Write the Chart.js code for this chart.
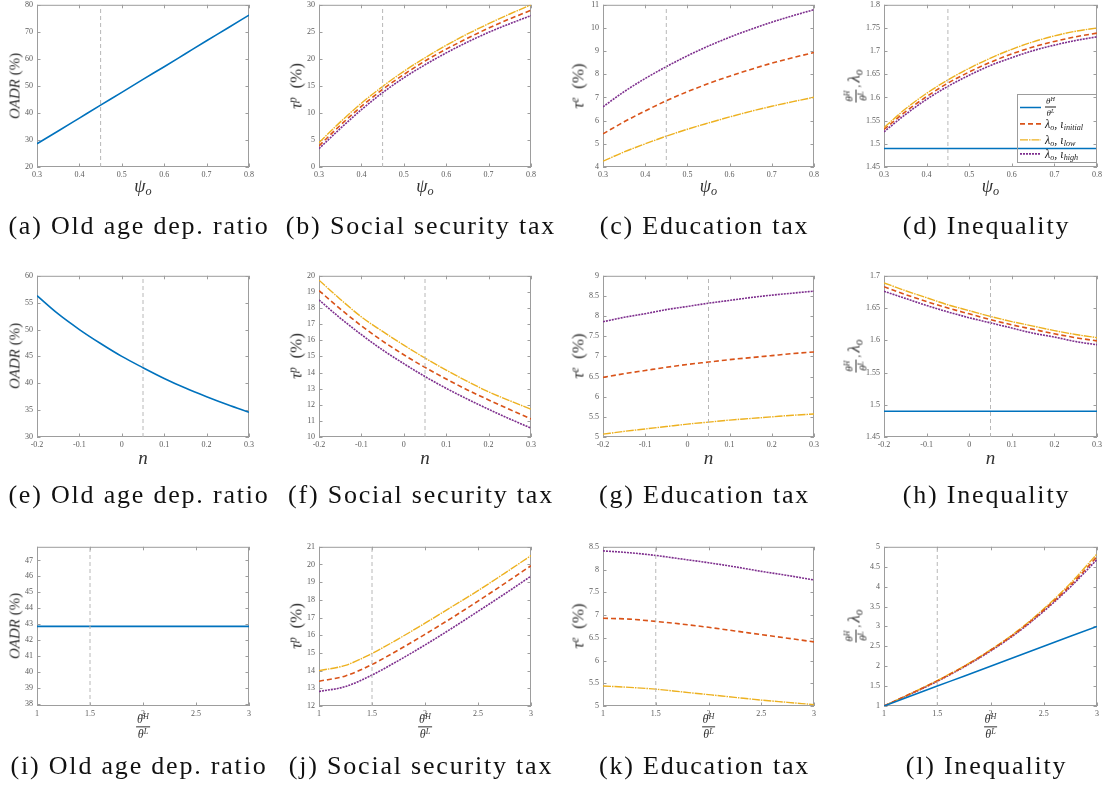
<!DOCTYPE html>
<html>
<head>
<meta charset="utf-8">
<script src="https://cdn.jsdelivr.net/npm/chart.js@4.4.0/dist/chart.umd.min.js"></script>
<style>
  html, body { margin: 0; padding: 0; background: #fff; }
  #fig { position: relative; width: 1105px; height: 787px; overflow: hidden; background: #fff;
         font-family: "Liberation Serif", "DejaVu Serif", serif; color: #222; }
  #fig canvas { position: absolute; }
  .lab { position: absolute; white-space: nowrap; color: #333; line-height: 1; }
  .ylab { transform: translate(-50%, -50%) rotate(-90deg); }
  .xlab { transform: translate(-50%, -50%); }
  .cap { position: absolute; transform: translate(-50%, -50%); white-space: nowrap;
         font-family: "Liberation Serif", serif; font-size: 26px; letter-spacing: 1.8px; color: #111; }
  .frac { display: inline-flex; flex-direction: column; align-items: center; vertical-align: middle; line-height: 1; }
  .frac .num { border-bottom: 1px solid currentColor; padding: 0 1px 1px; }
  .frac .den { padding-top: 1px; }
  .sp { font-size: 0.68em; position: relative; top: -0.45em; }
  .sb { font-size: 0.68em; position: relative; top: 0.25em; }
  #legend { position: absolute; border: 1px solid #9c9c9c; box-sizing: border-box; }
  #legend .row { position: absolute; left: 0; display: flex; align-items: center; transform: translateY(-50%); line-height: 1; }
  #legend svg { display: block; margin-right: 3px; }
  #legend .txt { font-size: 12px; color: #222; white-space: nowrap; }
</style>
</head>
<body>
<div id="fig"></div>
<script>
// ---- parameter grids (horizontal axes) ----
const psiGrid   = [0.30, 0.35, 0.40, 0.45, 0.50, 0.55, 0.60, 0.65, 0.70, 0.75, 0.80];
const nGrid     = [-0.20, -0.15, -0.10, -0.05, 0.00, 0.05, 0.10, 0.15, 0.20, 0.25, 0.30];
const ratioGrid = [1.00, 1.25, 1.50, 1.75, 2.00, 2.25, 2.50, 2.75, 3.00];

// calibrated baseline values (vertical reference lines)
const psiBase = 0.45;
const nBase = 0.05;
const ratioBase = 1.5;

// ---- old age dependency ratio, OADR (%) ----
const oadrPsi   = [28.6, 33.3, 38.1, 42.9, 47.6, 52.4, 57.1, 61.9, 66.7, 71.4, 76.2];
const oadrN     = [56.3, 52.9, 50.0, 47.4, 45.0, 42.9, 40.9, 39.1, 37.5, 36.0, 34.6];
const oadrRatio = [42.86, 42.86, 42.86, 42.86, 42.86, 42.86, 42.86, 42.86, 42.86];

// ---- social security tax, tau^p (%) ----
const tauPPsiInit = [3.9, 7.7, 11.2, 14.35, 17.1, 19.6, 21.8, 23.8, 25.7, 27.4, 29.0];
const tauPPsiLow  = [4.5, 8.3, 11.8, 14.9, 17.7, 20.2, 22.5, 24.6, 26.5, 28.3, 30.0];
const tauPPsiHigh = [3.4, 7.1, 10.6, 13.75, 16.5, 18.9, 21.1, 23.1, 24.9, 26.5, 28.0];

const tauPNInit = [19.08, 17.95, 16.9, 15.95, 15.1, 14.32, 13.6, 12.92, 12.3, 11.7, 11.12];
const tauPNLow  = [19.73, 18.55, 17.45, 16.55, 15.7, 14.9, 14.15, 13.45, 12.8, 12.25, 11.72];
const tauPNHigh = [18.5, 17.38, 16.35, 15.4, 14.55, 13.75, 13.02, 12.35, 11.72, 11.12, 10.55];

const tauPRatioInit = [13.4, 13.7, 14.35, 15.17, 16.05, 16.97, 17.93, 18.92, 19.93];
const tauPRatioLow  = [14.0, 14.3, 14.97, 15.8, 16.68, 17.6, 18.52, 19.5, 20.5];
const tauPRatioHigh = [12.82, 13.1, 13.75, 14.57, 15.45, 16.38, 17.35, 18.33, 19.34];

// ---- education tax, tau^e (%) ----
const tauEPsiInit = [5.43, 5.95, 6.42, 6.86, 7.25, 7.6, 7.92, 8.21, 8.48, 8.72, 8.94];
const tauEPsiLow  = [4.25, 4.65, 5.0, 5.33, 5.63, 5.9, 6.16, 6.4, 6.62, 6.82, 7.01];
const tauEPsiHigh = [6.6, 7.25, 7.82, 8.33, 8.8, 9.22, 9.6, 9.94, 10.25, 10.53, 10.79];

const tauENInit = [6.48, 6.57, 6.65, 6.73, 6.8, 6.86, 6.92, 6.97, 7.02, 7.07, 7.11];
const tauENLow  = [5.07, 5.14, 5.2, 5.26, 5.32, 5.37, 5.42, 5.46, 5.5, 5.54, 5.57];
const tauENHigh = [7.86, 7.97, 8.06, 8.16, 8.24, 8.32, 8.39, 8.46, 8.52, 8.57, 8.62];

const tauERatioInit = [6.93, 6.91, 6.86, 6.8, 6.73, 6.65, 6.57, 6.49, 6.41];
const tauERatioLow  = [5.44, 5.41, 5.37, 5.31, 5.25, 5.19, 5.13, 5.08, 5.03];
const tauERatioHigh = [8.41, 8.37, 8.31, 8.23, 8.15, 8.06, 7.96, 7.87, 7.77];

// ---- inequality: theta^H/theta^L and lambda_o ----
const thetaRatioPsi   = [1.49, 1.49, 1.49, 1.49, 1.49, 1.49, 1.49, 1.49, 1.49, 1.49, 1.49];
const lambdaPsiInit   = [1.531, 1.569, 1.602, 1.631, 1.655, 1.676, 1.694, 1.709, 1.721, 1.731, 1.739];
const lambdaPsiLow    = [1.535, 1.575, 1.609, 1.638, 1.663, 1.685, 1.704, 1.72, 1.733, 1.743, 1.750];
const lambdaPsiHigh   = [1.526, 1.563, 1.596, 1.624, 1.648, 1.669, 1.686, 1.701, 1.713, 1.723, 1.731];

const thetaRatioN     = [1.49, 1.49, 1.49, 1.49, 1.49, 1.49, 1.49, 1.49, 1.49, 1.49, 1.49];
const lambdaNInit     = [1.683, 1.671, 1.66, 1.65, 1.641, 1.632, 1.624, 1.617, 1.61, 1.604, 1.599];
const lambdaNLow      = [1.689, 1.677, 1.666, 1.655, 1.646, 1.637, 1.629, 1.622, 1.615, 1.609, 1.604];
const lambdaNHigh     = [1.676, 1.665, 1.654, 1.644, 1.635, 1.627, 1.619, 1.611, 1.605, 1.598, 1.593];

const thetaRatioRatio = [1.0, 1.25, 1.5, 1.75, 2.0, 2.25, 2.5, 2.75, 3.0];
const lambdaRatioInit = [1.0, 1.31, 1.63, 1.99, 2.4, 2.86, 3.41, 4.03, 4.75];
const lambdaRatioLow  = [1.0, 1.31, 1.64, 2.0, 2.41, 2.88, 3.44, 4.08, 4.82];
const lambdaRatioHigh = [1.0, 1.3, 1.62, 1.98, 2.38, 2.84, 3.38, 3.99, 4.68];

// ---- tick labels ----
const psiTicks   = [0.3, 0.4, 0.5, 0.6, 0.7, 0.8];
const nTicks     = [-0.2, -0.1, 0, 0.1, 0.2, 0.3];
const ratioTicks = [1, 1.5, 2, 2.5, 3];
const oadrPsiTicks   = [20, 30, 40, 50, 60, 70, 80];
const oadrNTicks     = [30, 35, 40, 45, 50, 55, 60];
const oadrRatioTicks = [38, 39, 40, 41, 42, 43, 44, 45, 46, 47];
const tauPPsiTicks   = [0, 5, 10, 15, 20, 25, 30];
const tauPNTicks     = [10, 11, 12, 13, 14, 15, 16, 17, 18, 19, 20];
const tauPRatioTicks = [12, 13, 14, 15, 16, 17, 18, 19, 20, 21];
const tauEPsiTicks   = [4, 5, 6, 7, 8, 9, 10, 11];
const tauENTicks     = [5, 5.5, 6, 6.5, 7, 7.5, 8, 8.5, 9];
const tauERatioTicks = [5, 5.5, 6, 6.5, 7, 7.5, 8, 8.5];
const ineqPsiTicks   = [1.45, 1.5, 1.55, 1.6, 1.65, 1.7, 1.75, 1.8];
const ineqNTicks     = [1.45, 1.5, 1.55, 1.6, 1.65, 1.7];
const ineqRatioTicks = [1, 1.5, 2, 2.5, 3, 3.5, 4, 4.5, 5];

// ---- panel captions ----
const captions = [
  '(a) Old age dep. ratio', '(b) Social security tax', '(c) Education tax', '(d) Inequality',
  '(e) Old age dep. ratio', '(f) Social security tax', '(g) Education tax', '(h) Inequality',
  '(i) Old age dep. ratio', '(j) Social security tax', '(k) Education tax', '(l) Inequality'
];

// ---- math labels (HTML) ----
const frac = (a, b, size) =>
  `<span class="frac" style="font-size:${size}px"><span class="num">${a}</span><span class="den">${b}</span></span>`;
const thetaFrac = (size) => frac('<i>θ</i><span class="sp"><i>H</i></span>', '<i>θ</i><span class="sp"><i>L</i></span>', size);
const lamO = '<i>λ</i><span class="sb"><i>o</i></span>';

const xTitlePsi   = { html: '<i>ψ</i><span class="sb"><i>o</i></span>', size: 18 };
const xTitleN     = { html: '<i>n</i>', size: 19 };
const xTitleRatio = { html: thetaFrac(12), size: 12 };
const yTitleOADR  = { html: '<i>OADR</i> (%)', size: 15 };
const yTitleTauP  = { html: '<i>τ</i><span class="sp"><i>p</i></span>&nbsp;&nbsp;(%)', size: 17 };
const yTitleTauE  = { html: '<i>τ</i><span class="sp"><i>e</i></span>&nbsp;&nbsp;(%)', size: 17 };
const yTitleIneq  = { html: thetaFrac(11) + '<span style="font-size:11px">&thinsp;,&thinsp;</span>' + lamO, size: 17 };

// ---- line styles ----
const lineStyles = {
  ratio: { borderColor: '#0072BD', borderDash: [],             borderWidth: 1.6 },
  init:  { borderColor: '#D95319', borderDash: [5, 3],         borderWidth: 1.6 },
  low:   { borderColor: '#EDB120', borderDash: [8, 1, 1.5, 1], borderWidth: 1.4 },
  high:  { borderColor: '#7E2F8E', borderDash: [2, 1],         borderWidth: 1.6 }
};

// plot-area rectangles [left, top, right, bottom]
const colL = [37, 319, 603, 884], colR = [249, 531, 814, 1097];
const rowT = [4, 275, 546], rowB = [167, 437, 706];
const xTitleY = [186, 457, 727];
const yTitleX = [15, 296, 578, 856];
const captionY = [226, 495, 766];

const rows = [
  { grid: psiGrid, xMin: 0.3, xMax: 0.8, xTicks: psiTicks, base: psiBase, xTitle: xTitlePsi,
    panels: [
      { yMin: 20, yMax: 80, yTicks: oadrPsiTicks, yTitle: yTitleOADR, series: [['ratio', oadrPsi]] },
      { yMin: 0, yMax: 30, yTicks: tauPPsiTicks, yTitle: yTitleTauP,
        series: [['init', tauPPsiInit], ['low', tauPPsiLow], ['high', tauPPsiHigh]] },
      { yMin: 4, yMax: 11, yTicks: tauEPsiTicks, yTitle: yTitleTauE,
        series: [['init', tauEPsiInit], ['low', tauEPsiLow], ['high', tauEPsiHigh]] },
      { yMin: 1.45, yMax: 1.8, yTicks: ineqPsiTicks, yTitle: yTitleIneq,
        series: [['ratio', thetaRatioPsi], ['init', lambdaPsiInit], ['low', lambdaPsiLow], ['high', lambdaPsiHigh]] }
    ] },
  { grid: nGrid, xMin: -0.2, xMax: 0.3, xTicks: nTicks, base: nBase, xTitle: xTitleN,
    panels: [
      { yMin: 30, yMax: 60, yTicks: oadrNTicks, yTitle: yTitleOADR, series: [['ratio', oadrN]] },
      { yMin: 10, yMax: 20, yTicks: tauPNTicks, yTitle: yTitleTauP,
        series: [['init', tauPNInit], ['low', tauPNLow], ['high', tauPNHigh]] },
      { yMin: 5, yMax: 9, yTicks: tauENTicks, yTitle: yTitleTauE,
        series: [['init', tauENInit], ['low', tauENLow], ['high', tauENHigh]] },
      { yMin: 1.45, yMax: 1.7, yTicks: ineqNTicks, yTitle: yTitleIneq,
        series: [['ratio', thetaRatioN], ['init', lambdaNInit], ['low', lambdaNLow], ['high', lambdaNHigh]] }
    ] },
  { grid: ratioGrid, xMin: 1, xMax: 3, xTicks: ratioTicks, base: ratioBase, xTitle: xTitleRatio,
    panels: [
      { yMin: 37.857, yMax: 47.857, yTicks: oadrRatioTicks, yTitle: yTitleOADR, series: [['ratio', oadrRatio]] },
      { yMin: 12, yMax: 21, yTicks: tauPRatioTicks, yTitle: yTitleTauP,
        series: [['init', tauPRatioInit], ['low', tauPRatioLow], ['high', tauPRatioHigh]] },
      { yMin: 5, yMax: 8.5, yTicks: tauERatioTicks, yTitle: yTitleTauE,
        series: [['init', tauERatioInit], ['low', tauERatioLow], ['high', tauERatioHigh]] },
      { yMin: 1, yMax: 5, yTicks: ineqRatioTicks, yTitle: yTitleIneq,
        series: [['ratio', thetaRatioRatio], ['init', lambdaRatioInit], ['low', lambdaRatioLow], ['high', lambdaRatioHigh]] }
    ] }
];

// box around the axes with inward tick marks on all four sides
const boxPlugin = {
  id: 'axesBox',
  beforeDatasetsDraw(chart) {
    const { ctx, chartArea: a, scales: { x, y } } = chart;
    const L = 3.5;
    ctx.save();
    ctx.strokeStyle = '#9d9d9d';
    ctx.lineWidth = 1;
    ctx.strokeRect(a.left + 0.5, a.top + 0.5, a.right - a.left - 1, a.bottom - a.top - 1);
    ctx.beginPath();
    x.ticks.forEach(t => {
      const px = Math.round(x.getPixelForValue(t.value)) + 0.5;
      ctx.moveTo(px, a.bottom); ctx.lineTo(px, a.bottom - L);
      ctx.moveTo(px, a.top); ctx.lineTo(px, a.top + L);
    });
    y.ticks.forEach(t => {
      const py = Math.round(y.getPixelForValue(t.value)) + 0.5;
      ctx.moveTo(a.left, py); ctx.lineTo(a.left + L, py);
      ctx.moveTo(a.right, py); ctx.lineTo(a.right - L, py);
    });
    ctx.stroke();
    ctx.restore();
  }
};

const fig = document.getElementById('fig');
const fmt = v => String(+(+v).toFixed(2));
const tickFont = { family: 'Liberation Serif', size: 8 };

function addLabel(cls, html, size, x, y) {
  const d = document.createElement('div');
  d.className = 'lab ' + cls;
  d.style.fontSize = size + 'px';
  d.style.left = x + 'px';
  d.style.top = y + 'px';
  d.innerHTML = html;
  fig.appendChild(d);
}

function buildPanel(row, rIdx, p, cIdx) {
  const l = colL[cIdx], r = colR[cIdx], t = rowT[rIdx], b = rowB[rIdx];
  const yw = 34, xh = 17, padT = 8, padR = 14;
  const W = (r - l) + yw + padR, H = (b - t) + padT + xh;
  const cv = document.createElement('canvas');
  cv.width = W; cv.height = H;
  cv.style.width = W + 'px'; cv.style.height = H + 'px';
  cv.style.left = (l - yw) + 'px'; cv.style.top = (t - padT) + 'px';
  fig.appendChild(cv);

  const datasets = [{
    data: [{ x: row.base, y: p.yMin }, { x: row.base, y: p.yMax }],
    borderColor: '#b8b8b8', borderDash: [4, 3], borderWidth: 1, pointRadius: 0
  }];
  p.series.forEach(([style, vals]) => {
    datasets.push(Object.assign({
      data: row.grid.map((xv, i) => ({ x: xv, y: vals[i] })),
      pointRadius: 0, cubicInterpolationMode: 'monotone', fill: false
    }, lineStyles[style]));
  });

  new Chart(cv, {
    type: 'line',
    data: { datasets },
    plugins: [boxPlugin],
    options: {
      responsive: false, animation: false, devicePixelRatio: 1,
      layout: { padding: { left: 0, top: padT, right: padR, bottom: 0 } },
      plugins: { legend: { display: false }, tooltip: { enabled: false } },
      scales: {
        x: {
          type: 'linear', min: row.xMin, max: row.xMax,
          grid: { display: false, drawTicks: false }, border: { display: false },
          ticks: { font: tickFont, color: '#5a5a5a', padding: 3, maxRotation: 0, autoSkip: false, callback: fmt },
          afterBuildTicks: s => { s.ticks = row.xTicks.map(v => ({ value: v })); },
          afterFit: s => { s.height = xh; }
        },
        y: {
          type: 'linear', min: p.yMin, max: p.yMax,
          grid: { display: false, drawTicks: false }, border: { display: false },
          ticks: { font: tickFont, color: '#5a5a5a', padding: 4, autoSkip: false, callback: fmt },
          afterBuildTicks: s => { s.ticks = p.yTicks.map(v => ({ value: v })); },
          afterFit: s => { s.width = yw; }
        }
      }
    }
  });

  addLabel('xlab', row.xTitle.html, row.xTitle.size, (l + r) / 2, xTitleY[rIdx]);
  addLabel('ylab', p.yTitle.html, p.yTitle.size, yTitleX[cIdx], (t + b) / 2);

  const cap = document.createElement('div');
  cap.className = 'cap';
  cap.textContent = captions[rIdx * 4 + cIdx];
  cap.style.left = ((l + r) / 2 - 4) + 'px';
  cap.style.top = captionY[rIdx] + 'px';
  fig.appendChild(cap);
}

rows.forEach((row, rIdx) => row.panels.forEach((p, cIdx) => buildPanel(row, rIdx, p, cIdx)));

// legend inside panel (d)
const legendItems = [
  { style: 'ratio', html: thetaFrac(9), y: 12 },
  { style: 'init', html: lamO + ', <i>ι</i><span class="sb"><i>initial</i></span>', y: 29 },
  { style: 'low',  html: lamO + ', <i>ι</i><span class="sb"><i>low</i></span>', y: 45 },
  { style: 'high', html: lamO + ', <i>ι</i><span class="sb"><i>high</i></span>', y: 59 }
];
const lg = document.createElement('div');
lg.id = 'legend';
Object.assign(lg.style, { left: '1017px', top: '94px', width: '80px', height: '69px' });
legendItems.forEach(it => {
  const st = lineStyles[it.style];
  const row = document.createElement('div');
  row.className = 'row';
  row.style.top = it.y + 'px';
  row.innerHTML =
    `<svg width="24" height="6"><line x1="2" y1="3" x2="23" y2="3" stroke="${st.borderColor}" stroke-width="${st.borderWidth}" stroke-dasharray="${st.borderDash.join(' ') || 'none'}"/></svg>` +
    `<span class="txt">${it.html}</span>`;
  lg.appendChild(row);
});
fig.appendChild(lg);
</script>
</body>
</html>
